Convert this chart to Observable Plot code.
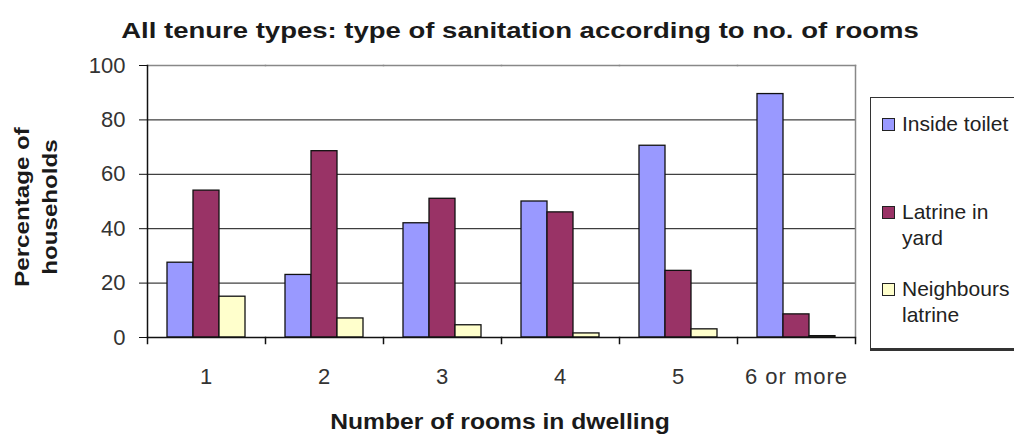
<!DOCTYPE html>
<html>
<head>
<meta charset="utf-8">
<script src="https://cdn.jsdelivr.net/npm/d3@7"></script>
<script src="https://cdn.jsdelivr.net/npm/@observablehq/plot@0.6"></script>
<style>
  html, body { margin: 0; padding: 0; background: #fff; overflow: hidden; }
  #wrap { position: relative; width: 1014px; height: 436px; font-family: "Liberation Sans", Arial, sans-serif; }
  #title { position: absolute; left: 520px; top: 31px; transform: translate(-50%, -50%) scaleX(1.25); font-weight: bold; font-size: 22px; color: #1a1a1a; white-space: nowrap; }
  #ylab { position: absolute; left: 36px; top: 207px; transform: translate(-50%, -50%) rotate(-90deg) scaleX(1.15); text-align: center; font-weight: bold; font-size: 21px; line-height: 28px; color: #1a1a1a; white-space: nowrap; }
  #xlab { position: absolute; left: 500px; top: 422px; transform: translate(-50%, -50%) scaleX(1.12); font-weight: bold; font-size: 22px; color: #1a1a1a; white-space: nowrap; }
  #legend { position: absolute; left: 870px; top: 97px; width: 170px; height: 250px; border: 1.5px solid #333; border-bottom-width: 3px; background: #fff; font-size: 21px; color: #222; }
  .item { position: absolute; left: 11px; line-height: 26px; }
  .sw { position: absolute; left: 0; top: 7px; width: 11px; height: 11px; border: 1.5px solid #222; }
  .lt { position: absolute; left: 20px; white-space: nowrap; }
  svg g[aria-label="fx-axis tick label"] text { letter-spacing: 1px; }
</style>
</head>
<body>
<div id="wrap">
  <div id="title"></div>
  <div id="ylab"></div>
  <div id="xlab"></div>
  <div id="chart"></div>
  <div id="legend"></div>
</div>
<script>
const titleText = "All tenure types: type of sanitation according to no. of rooms";
const yLabel = ["Percentage of", "households"];
const xLabel = "Number of rooms in dwelling";
const categories = ["1", "2", "3", "4", "5", "6 or more"];
const series = ["Inside toilet", "Latrine in yard", "Neighbours latrine"];
const legendLines = [["Inside toilet"], ["Latrine in", "yard"], ["Neighbours", "latrine"]];
const colors = ["#9999FF", "#993366", "#FFFFCC"];
const insideToilet = [27.5, 23, 42, 50, 70.5, 89.5];
const latrineInYard = [54, 68.5, 51, 46, 24.5, 8.5];
const neighboursLatrine = [15, 7, 4.5, 1.5, 3, 0.5];
const yTicks = [0, 20, 40, 60, 80, 100];
const gridTicks = [20, 40, 60, 80];

const seriesValues = [insideToilet, latrineInYard, neighboursLatrine];
const data = [];
categories.forEach((c, i) => {
  series.forEach((s, j) => data.push({room: c, series: s, value: seriesValues[j][i]}));
});

document.getElementById("title").textContent = titleText;
document.getElementById("ylab").innerHTML = yLabel.map(t => `<div>${t}</div>`).join("");
document.getElementById("xlab").textContent = xLabel;

const W = 1014, H = 436, mTop = 65, mBottom = 99, mLeft = 145, mRight = 158;
const innerH = H - mTop - mBottom;

const chart = Plot.plot({
  width: W,
  height: H,
  marginTop: mTop,
  marginBottom: mBottom,
  marginLeft: mLeft,
  marginRight: mRight,
  style: {fontFamily: "'Liberation Sans', Arial, sans-serif", fontSize: "22px", color: "#333", background: "transparent"},
  fx: {domain: categories, padding: 0, label: null},
  x: {domain: series, paddingInner: 0, paddingOuter: 0.74, axis: null},
  y: {domain: [0, 100], axis: null},
  color: {domain: series, range: colors},
  marks: [
    Plot.ruleY(gridTicks, {stroke: "#111", strokeWidth: 1}),
    Plot.frame({anchor: "top", stroke: "#888", strokeWidth: 1.5}),
    Plot.frame({anchor: "right", facetAnchor: "right", stroke: "#888", strokeWidth: 1.5}),
    Plot.barY(data, {fx: "room", x: "series", y: "value", fill: "series", stroke: "#111", strokeWidth: 1.3}),
    Plot.ruleY([0], {stroke: "#111", strokeWidth: 1.5}),
    Plot.frame({anchor: "left", facetAnchor: "left", stroke: "#111", strokeWidth: 1.5}),
    Plot.frame({anchor: "left", insetTop: innerH, insetBottom: -6, stroke: "#111", strokeWidth: 1.5}),
    Plot.frame({anchor: "right", facetAnchor: "right", insetTop: innerH, insetBottom: -6, stroke: "#111", strokeWidth: 1.5}),
    Plot.axisY(yTicks, {anchor: "left", tickSize: 8, tickPadding: 14, fontSize: 22, stroke: "#111", label: null}),
    Plot.axisFx({anchor: "bottom", tickSize: 0, tickPadding: 31, fontSize: 22, label: null})
  ]
});
document.getElementById("chart").appendChild(chart);

const legend = document.getElementById("legend");
const itemTops = [13, 101, 178];
legendLines.forEach((lines, i) => {
  const it = document.createElement("div");
  it.className = "item";
  it.style.top = itemTops[i] + "px";
  const sw = document.createElement("div");
  sw.className = "sw";
  sw.style.background = colors[i];
  it.appendChild(sw);
  lines.forEach((l, k) => {
    const t = document.createElement("div");
    t.className = "lt";
    t.style.top = (k * 26) + "px";
    t.textContent = l;
    it.appendChild(t);
  });
  legend.appendChild(it);
});
</script>
</body>
</html>
